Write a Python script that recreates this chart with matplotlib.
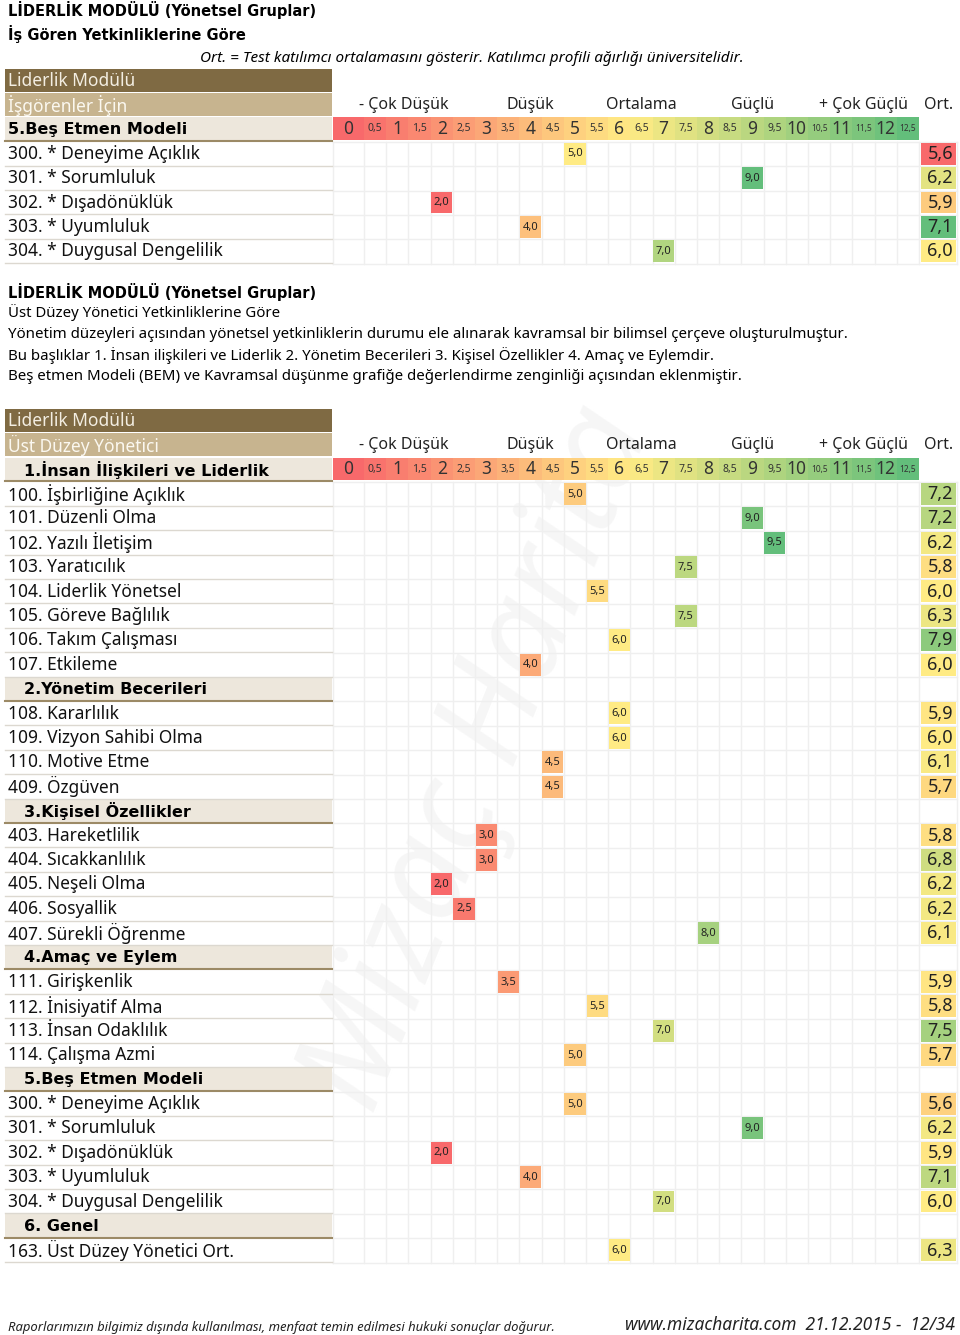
import matplotlib.pyplot as plt
from matplotlib.patches import Rectangle

# ---- veriler ----
scale_values = [0, 0.5, 1, 1.5, 2, 2.5, 3, 3.5, 4, 4.5, 5, 5.5, 6, 6.5,
                7, 7.5, 8, 8.5, 9, 9.5, 10, 10.5, 11, 11.5, 12, 12.5]
scale_labels = ["0", "0,5", "1", "1,5", "2", "2,5", "3", "3,5", "4", "4,5",
                "5", "5,5", "6", "6,5", "7", "7,5", "8", "8,5", "9", "9,5",
                "10", "10,5", "11", "11,5", "12", "12,5"]
categories = ["- Çok Düşük", "Düşük", "Ortalama", "Güçlü", "+ Çok Güçlü"]
category_spans = [(0, 2.5), (3, 5), (5.5, 7.5), (8, 10), (10.5, 12.5)]

insan_labels = ["100. İşbirliğine Açıklık", "101. Düzenli Olma", "102. Yazılı İletişim",
                "103. Yaratıcılık", "104. Liderlik Yönetsel", "105. Göreve Bağlılık",
                "106. Takım Çalışması", "107. Etkileme"]
insan_scores = [5.0, 9.0, 9.5, 7.5, 5.5, 7.5, 6.0, 4.0]
insan_ort = [7.2, 7.2, 6.2, 5.8, 6.0, 6.3, 7.9, 6.0]

yonetim_labels = ["108. Kararlılık", "109. Vizyon Sahibi Olma", "110. Motive Etme", "409. Özgüven"]
yonetim_scores = [6.0, 6.0, 4.5, 4.5]
yonetim_ort = [5.9, 6.0, 6.1, 5.7]

kisisel_labels = ["403. Hareketlilik", "404. Sıcakkanlılık", "405. Neşeli Olma",
                  "406. Sosyallik", "407. Sürekli Öğrenme"]
kisisel_scores = [3.0, 3.0, 2.0, 2.5, 8.0]
kisisel_ort = [5.8, 6.8, 6.2, 6.2, 6.1]

amac_labels = ["111. Girişkenlik", "112. İnisiyatif Alma", "113. İnsan Odaklılık", "114. Çalışma Azmi"]
amac_scores = [3.5, 5.5, 7.0, 5.0]
amac_ort = [5.9, 5.8, 7.5, 5.7]

bem_labels = ["300. * Deneyime Açıklık", "301. * Sorumluluk", "302. * Dışadönüklük",
              "303. * Uyumluluk", "304. * Duygusal Dengelilik"]
bem_scores = [5.0, 9.0, 2.0, 4.0, 7.0]
bem_ort = [5.6, 6.2, 5.9, 7.1, 6.0]

genel_labels = ["163. Üst Düzey Yönetici Ort."]
genel_scores = [6.0]
genel_ort = [6.3]

# ---- stil / yerlesim ----
plt.rcParams['font.family'] = ['Noto Sans', 'DejaVu Sans']
BOLD = ['DejaVu Sans']

LBL_L, LBL_R = 5, 332
GRID_L, FIRST_W, COL_W = 333, 31, 22.2
ORT_L, ORT_R = 920, 957
RH = 24.4

BROWN = '#7f6a43'
TAN = '#c7b48f'
BEIGE = '#ede7dc'
GRID = '#efefef'

RED = (248, 105, 107)
YEL = (255, 235, 132)
GRN = (99, 190, 123)


def scale_color(v, lo, mid, hi):
    # Excel 3 renk olcegi
    if v <= mid:
        t = 0 if mid == lo else min(max((v - lo) / (mid - lo), 0), 1)
        a, b = RED, YEL
    else:
        t = min(max((v - mid) / (hi - mid), 0), 1)
        a, b = YEL, GRN
    return tuple((a[k] + (b[k] - a[k]) * t) / 255 for k in range(3))


def col_box(v):
    i = scale_values.index(v)
    if i == 0:
        return GRID_L, FIRST_W
    return GRID_L + FIRST_W + (i - 1) * COL_W, COL_W


def fmt(v):
    return f"{v:.1f}".replace('.', ',')


fig = plt.figure(figsize=(9.6, 13.35), dpi=100)
ax = fig.add_axes([0, 0, 1, 1])
ax.set_xlim(0, 960)
ax.set_ylim(1335, 0)
ax.axis('off')


def header_rows(top, title, subtitle):
    ax.add_patch(Rectangle((LBL_L, top), LBL_R - LBL_L, RH - 1, color=BROWN, lw=0))
    ax.text(LBL_L + 3, top + RH / 2, title, color='#f3eee2', fontsize=12.5, va='center')
    top += RH
    ax.add_patch(Rectangle((LBL_L, top), LBL_R - LBL_L, RH - 1, color=TAN, lw=0))
    ax.text(LBL_L + 3, top + RH / 2, subtitle, color='#fbf8f0', fontsize=12.5, va='center')
    for name, (a, b) in zip(categories, category_spans):
        xa, _ = col_box(a)
        xb, wb = col_box(b)
        ax.text((xa + xb + wb) / 2, top + RH / 2, name, fontsize=11.5, ha='center', va='center', color='#222')
    ax.text((ORT_L + ORT_R) / 2, top + RH / 2, "Ort.", fontsize=11.5, ha='center', va='center', color='#222')
    return top + RH


def band_row(top, section, indent):
    ax.add_patch(Rectangle((LBL_L, top), LBL_R - LBL_L, RH - 1, color=BEIGE, lw=0))
    ax.plot([LBL_L, LBL_R], [top + RH - 0.5, top + RH - 0.5], color='#9c8a66', lw=1.5)
    ax.text(LBL_L + 3 + indent, top + RH / 2, section, fontsize=11.5, fontweight='bold',
            family=BOLD, va='center')
    for v, lab in zip(scale_values, scale_labels):
        x, w = col_box(v)
        ax.add_patch(Rectangle((x, top), w + 0.3, RH - 2, color=scale_color(v, 0, 6.25, 12.5), lw=0))
        size = 12.5 if float(v).is_integer() else (6 if v > 10 else 7.5)
        ax.text(x + w / 2, top + RH / 2 - 0.5, lab, fontsize=size, ha='center', va='center', color='#333')
    return top + RH


def grid_rows(top, n):
    # acik gri izgara
    bottom = top + n * RH
    xs = [GRID_L] + [col_box(v)[0] + col_box(v)[1] for v in scale_values] + [ORT_R]
    for x in xs:
        ax.plot([x, x], [top, bottom], color=GRID, lw=1, zorder=0.8)
    for k in range(n + 1):
        ax.plot([GRID_L, ORT_R], [top + k * RH, top + k * RH], color=GRID, lw=1, zorder=0.8)


def item_rows(top, labels, scores, ort, vscale, oscale):
    for lab, s, o in zip(labels, scores, ort):
        ax.plot([LBL_L, LBL_R], [top + RH - 0.5, top + RH - 0.5], color='#dcd8d0', lw=1)
        ax.text(LBL_L + 3, top + RH / 2, lab, fontsize=12.5, va='center', color='#111')
        x, w = col_box(s)
        ax.add_patch(Rectangle((x + 0.5, top + 1), w - 1, RH - 2.5,
                               color=scale_color(s, *vscale), lw=0, zorder=2))
        ax.text(x + w / 2, top + RH / 2, fmt(s), fontsize=8, ha='center', va='center', color='#222', zorder=3)
        ax.add_patch(Rectangle((ORT_L + 1, top + 1), ORT_R - ORT_L - 2, RH - 2.5,
                               color=scale_color(o, *oscale), lw=0, zorder=2))
        ax.text(ORT_R - 4, top + RH / 2, fmt(o), fontsize=13, ha='right', va='center', color='#222', zorder=3)
        top += RH
    return top


def section_row(top, name):
    ax.add_patch(Rectangle((LBL_L, top), LBL_R - LBL_L, RH - 1, color=BEIGE, lw=0))
    ax.plot([LBL_L, LBL_R], [top + RH - 0.5, top + RH - 0.5], color='#9c8a66', lw=1.5)
    ax.text(LBL_L + 19, top + RH / 2, name, fontsize=11.5, fontweight='bold', family=BOLD, va='center')
    return top + RH


# ---- ust baslik ----
ax.text(8, 10, "LİDERLİK MODÜLÜ (Yönetsel Gruplar)", fontsize=10.5, fontweight='bold', family=BOLD, va='center')
ax.text(8, 34, "İş Gören Yetkinliklerine Göre", fontsize=10.5, fontweight='bold', family=BOLD, va='center')
ax.text(200, 59, "Ort. = Test katılımcı ortalamasını gösterir. Katılımcı profili ağırlığı üniversitelidir.",
        fontsize=11, style='italic', va='center')

# ---- tablo 1 ----
y = header_rows(68.5, "Liderlik Modülü", "İşgörenler İçin")
y = band_row(y, "5.Beş Etmen Modeli", 0)
grid_rows(y, len(bem_labels))
item_rows(y, bem_labels, bem_scores, bem_ort, (2, 5, 9), (5.6, 6.0, 7.1))

# ---- aciklama ----
ax.text(8, 292, "LİDERLİK MODÜLÜ (Yönetsel Gruplar)", fontsize=10.5, fontweight='bold', family=BOLD, va='center')
desc = ["Üst Düzey Yönetici Yetkinliklerine Göre",
        "Yönetim düzeyleri açısından yönetsel yetkinliklerin durumu ele alınarak kavramsal bir bilimsel çerçeve oluşturulmuştur.",
        "Bu başlıklar 1. İnsan ilişkileri ve Liderlik 2. Yönetim Becerileri 3. Kişisel Özellikler 4. Amaç ve Eylemdir.",
        "Beş etmen Modeli (BEM) ve Kavramsal düşünme grafiğe değerlendirme zenginliği açısından eklenmiştir."]
for k, line in enumerate(desc):
    ax.text(8, 313 + k * 21.3, line, fontsize=10.8, va='center')

# ---- tablo 2 ----
VS2 = (2, 6, 9.5)
OS2 = (4.0, 6.0, 8.6)
groups = [
    ("1.İnsan İlişkileri ve Liderlik", insan_labels, insan_scores, insan_ort),
    ("2.Yönetim Becerileri", yonetim_labels, yonetim_scores, yonetim_ort),
    ("3.Kişisel Özellikler", kisisel_labels, kisisel_scores, kisisel_ort),
    ("4.Amaç ve Eylem", amac_labels, amac_scores, amac_ort),
    ("5.Beş Etmen Modeli", bem_labels, bem_scores, bem_ort),
    ("6. Genel", genel_labels, genel_scores, genel_ort),
]
y = header_rows(408.7, "Liderlik Modülü", "Üst Düzey Yönetici")
y = band_row(y, groups[0][0], 16)
n_rows = sum(len(g[1]) for g in groups) + len(groups) - 1
grid_rows(y, n_rows)
for gi, (name, labels, scores, ort) in enumerate(groups):
    if gi > 0:
        y = section_row(y, name)
    y = item_rows(y, labels, scores, ort, VS2, OS2)

# ---- filigran ----
ax.text(480, 760, "Mizaç Harita", fontsize=95, style='italic', rotation=68,
        ha='center', va='center', color='#dddddd', alpha=0.25, zorder=0.5)

# ---- alt bilgi ----
ax.text(8, 1327, "Raporlarımızın bilgimiz dışında kullanılması, menfaat temin edilmesi hukuki sonuçlar doğurur.",
        fontsize=9.4, style='italic', va='center', color='#222')
ax.text(955, 1325, "www.mizacharita.com  21.12.2015 -  12/34", fontsize=12.5, style='italic',
        ha='right', va='center', color='#222')

fig.savefig('out.png', dpi=100)
